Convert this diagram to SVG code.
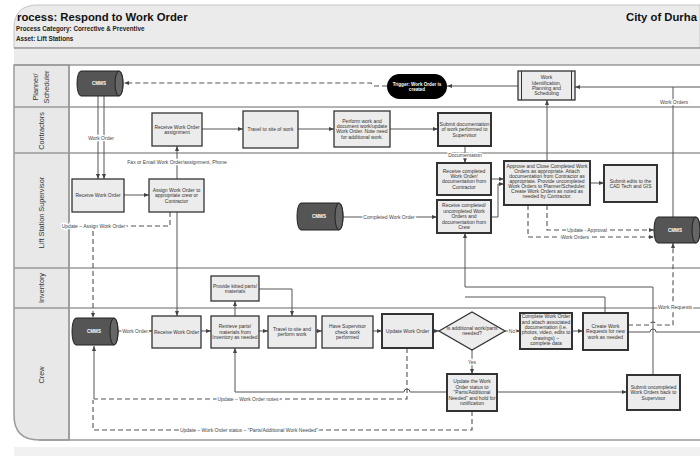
<svg xmlns="http://www.w3.org/2000/svg" width="700" height="456" viewBox="0 0 700 456">
<style>
text{font-family:"Liberation Sans",Arial,sans-serif;}
.lane{fill:none;stroke:#9a9a9a;stroke-width:1.5}
.ll{font-size:7.3px;fill:#333;text-anchor:middle}
.box{fill:#ececec;stroke:#333;stroke-width:1.3}
.thk{stroke-width:2}
.bt{font-size:5px;fill:#333;text-anchor:middle}
.cyl{fill:#555;stroke:#222;stroke-width:1}
.cap{fill:#666;stroke:#222;stroke-width:1}
.ct{font-size:4.6px;fill:#fff;font-weight:bold;text-anchor:middle}
.c{fill:none;stroke:#555;stroke-width:1}
.d{fill:none;stroke:#555;stroke-width:1.1;stroke-dasharray:5,3}
.lb{font-size:5px;fill:#444;text-anchor:middle;stroke:#fff;stroke-width:2.5;paint-order:stroke}
</style>
<defs>
<marker id="ah" viewBox="0 0 10 10" refX="10" refY="5" markerWidth="5" markerHeight="5" orient="auto" markerUnits="userSpaceOnUse"><path d="M0,1 L10,5 L0,9 z" fill="#444"/></marker>
</defs>
<rect width="700" height="456" fill="#fff"/>
<g id="lanes">
<path d="M14,48 V28 Q14,5 38,5 H700 V48 Z" fill="#ebebeb" stroke="#c4c4c4" stroke-width="1"/>
<rect x="14" y="48" width="686" height="17" fill="#ebebeb"/>
<path d="M14,65 H69 V440 H39 Q14,440 14,415 Z" fill="#e8e8e8" stroke="#9a9a9a" stroke-width="1.5"/>
<line class="lane" x1="14" y1="48" x2="700" y2="48"/>
<line class="lane" x1="14" y1="65" x2="700" y2="65"/>
<line class="lane" x1="14" y1="107" x2="700" y2="107"/>
<line class="lane" x1="14" y1="153" x2="700" y2="153"/>
<line class="lane" x1="14" y1="268" x2="700" y2="268"/>
<line class="lane" x1="14" y1="308" x2="700" y2="308"/>
<line class="lane" x1="39" y1="440" x2="700" y2="440"/>
<line class="lane" x1="69" y1="65" x2="69" y2="440"/>
<rect x="14" y="447" width="686" height="9" fill="#f1f1f1"/>
<text x="17" y="20.5" font-size="11.3" font-weight="bold" fill="#111">rocess: Respond to Work Order</text>
<text x="16" y="30.5" font-size="6.3" font-weight="bold" fill="#222">Process Category: Corrective &amp; Preventive</text>
<text x="16" y="40.5" font-size="6.3" font-weight="bold" fill="#222">Asset:   Lift Stations</text>
<text x="626" y="20.5" font-size="11.3" font-weight="bold" fill="#111">City of Durha</text>
<text class="ll" transform="translate(35,87) rotate(-90)" dy="2.5">Planner/</text>
<text class="ll" transform="translate(46,87) rotate(-90)" dy="2.5">Scheduler</text>
<text class="ll" transform="translate(41.5,131) rotate(-90)" dy="2.5">Contractors</text>
<text class="ll" transform="translate(41.5,212.5) rotate(-90)" dy="2.5">Lift Station Supervisor</text>
<text class="ll" transform="translate(41.5,288) rotate(-90)" dy="2.5">Inventory</text>
<text class="ll" transform="translate(41.5,375) rotate(-90)" dy="2.5">Crew</text>
</g>
<g id="connectors">
<path class="c" d="M518,86 H447" marker-end="url(#ah)"/>
<path class="d" d="M387,86 H374 L371,83 H124" marker-end="url(#ah)"/>
<path class="c" d="M98,96 V179" marker-end="url(#ah)"/>
<path class="c" d="M104,96 V179" marker-end="url(#ah)"/>
<text class="lb" x="101" y="139.5">Work Order</text>
<path class="c" d="M202,129 H243" marker-end="url(#ah)"/>
<path class="c" d="M298,129 H334" marker-end="url(#ah)"/>
<path class="c" d="M390,129 H438" marker-end="url(#ah)"/>
<path class="c" d="M124,195 H149" marker-end="url(#ah)"/>
<path class="c" d="M177,179 V146" marker-end="url(#ah)"/>
<text class="lb" x="177" y="163.5">Fax or Email Work Order/assignment, Phone</text>
<path class="c" d="M177,212 V316" marker-end="url(#ah)"/>
<path class="d" d="M170,212 V226 H93 V318" marker-end="url(#ah)"/>
<text class="lb" x="93.5" y="228">Update – Assign Work Order</text>
<path class="c" d="M465,146 V163" marker-end="url(#ah)"/>
<text class="lb" x="465" y="156.5">Documentation</text>
<path class="c" d="M343,217 H437" marker-end="url(#ah)"/>
<text class="lb" x="389" y="218.5">Completed Work Order</text>
<path class="c" d="M491,179 H504" marker-end="url(#ah)"/>
<path class="c" d="M491,217 H498 V184 H504" marker-end="url(#ah)"/>
<path class="c" d="M590,183 H604" marker-end="url(#ah)"/>
<path class="c" d="M547,161 V100" marker-end="url(#ah)"/>
<path class="d" d="M547,205 V230 H654" marker-end="url(#ah)"/>
<text class="lb" x="587" y="231.5">Update - Approval</text>
<path class="d" d="M528,205 V237 H654" marker-end="url(#ah)"/>
<text class="lb" x="575" y="238.5">Work Orders</text>
<path class="c" d="M700,87 H575" marker-end="url(#ah)"/>
<path class="c" d="M673,217 V87"/>
<text class="lb" x="674" y="103.5">Work Orders</text>
<path class="d" d="M628,325 H650 A3,3 0 0 1 656,325 H673 V243" marker-end="url(#ah)"/>
<text class="lb" x="675" y="308.5">Work Requests</text>
<path class="c" d="M628,332 H650 A3,3 0 0 1 656,332 H700"/>
<path class="c" d="M653,375 V287 H465 V233" marker-end="url(#ah)"/>
<path class="c" d="M605,313 V297 H465"/>
<path class="c" d="M118,331 H152" marker-end="url(#ah)"/>
<text class="lb" x="135" y="332.5">Work Order</text>
<path class="c" d="M201,331 H211" marker-end="url(#ah)"/>
<path class="c" d="M259,331 H268" marker-end="url(#ah)"/>
<path class="c" d="M316,331 H322" marker-end="url(#ah)"/>
<path class="c" d="M373,331 H382" marker-end="url(#ah)"/>
<path class="c" d="M433,331 H439" marker-end="url(#ah)"/>
<path class="c" d="M505,331 H520" marker-end="url(#ah)"/>
<text class="lb" x="512" y="332.5" font-size="4.6">No</text>
<path class="c" d="M572,331 H583" marker-end="url(#ah)"/>
<path class="c" d="M472,350 V374" marker-end="url(#ah)"/>
<text class="lb" x="472" y="363.5" font-size="4.6">Yes</text>
<path class="c" d="M235,316 V301" marker-end="url(#ah)"/>
<path class="c" d="M259,289 H292 V316" marker-end="url(#ah)"/>
<path class="c" d="M497,392 H627" marker-end="url(#ah)"/>
<path class="c" d="M447,392 H410 A3,3 0 0 0 404,392 H235 V348" marker-end="url(#ah)"/>
<path class="d" d="M407,348 V399 H94"/>
<path class="c" d="M94,399 V346" marker-end="url(#ah)"/>
<text class="lb" x="248" y="400.5">Update – Work Order notes</text>
<path class="d" d="M472,411 V430 H93 V400"/>
<text class="lb" x="249" y="431.5">Update – Work Order status – "Parts/Additional Work Needed"</text>
</g>
<g id="n-cmms-planner">
<path class="cyl" d="M81,71 H119 A4,12.5 0 0 1 119,96 H81 A4,12.5 0 0 1 81,71 Z"/>
<ellipse class="cap" cx="119" cy="83.5" rx="4" ry="12.5"/>
<text class="ct" x="99" y="85">CMMS</text>
</g>
<g id="n-trigger">
<rect x="387" y="74" width="60" height="25" rx="12.5" fill="#000"/>
<text class="ct" x="417" y="85.5"><tspan x="417">Trigger:  Work Order is</tspan><tspan x="417" dy="5.4">created</tspan></text>
</g>
<g id="n-workid">
<rect class="box" x="518" y="71" width="57" height="29"/>
<line x1="521.5" y1="71" x2="521.5" y2="100" stroke="#333" stroke-width="1"/>
<line x1="571.5" y1="71" x2="571.5" y2="100" stroke="#333" stroke-width="1"/>
<text class="bt" x="546.5" y="79.1"><tspan x="546.5">Work</tspan><tspan x="546.5" dy="5.4">Identification,</tspan><tspan x="546.5" dy="5.4">Planning and</tspan><tspan x="546.5" dy="5.4">Scheduling</tspan></text>
</g>
<g id="n-c1">
<rect class="box" x="152" y="113" width="50" height="33"/>
<text class="bt" x="177" y="128.5"><tspan x="177">Receive  Work Order</tspan><tspan x="177" dy="5.4">assignment</tspan></text>
</g>
<g id="n-c2">
<rect class="box" x="243" y="111" width="55" height="37"/>
<text class="bt" x="270.5" y="131.2">Travel to site of work</text>
</g>
<g id="n-c3">
<rect class="box" x="334" y="111" width="56" height="36"/>
<text class="bt" x="362" y="122.6"><tspan x="362">Perform work and</tspan><tspan x="362" dy="5.4">document work/update</tspan><tspan x="362" dy="5.4">Work Order.  Note need</tspan><tspan x="362" dy="5.4">for additional work.</tspan></text>
</g>
<g id="n-c4">
<rect class="box thk" x="438" y="113" width="53" height="33"/>
<text class="bt" x="464.5" y="125.8"><tspan x="464.5">Submit documentation</tspan><tspan x="464.5" dy="5.4">of work performed to</tspan><tspan x="464.5" dy="5.4">Supervisor</tspan></text>
</g>
<g id="n-s1">
<rect class="box" x="72" y="179" width="52" height="33"/>
<text class="bt" x="98" y="197.2">Receive Work Order</text>
</g>
<g id="n-s2">
<rect class="box" x="149" y="179" width="55" height="33"/>
<text class="bt" x="176.5" y="191.8"><tspan x="176.5">Assign Work Order to</tspan><tspan x="176.5" dy="5.4">appropriate crew or</tspan><tspan x="176.5" dy="5.4">Contractor</tspan></text>
</g>
<g id="n-cmms-sup">
<path class="cyl" d="M301,203 H339 A4,13.5 0 0 1 339,230 H301 A4,13.5 0 0 1 301,203 Z"/>
<ellipse class="cap" cx="339" cy="216.5" rx="4" ry="13.5"/>
<text class="ct" x="319" y="218">CMMS</text>
</g>
<g id="n-s3">
<rect class="box thk" x="437" y="163" width="54" height="32"/>
<text class="bt" x="464" y="172.6"><tspan x="464">Receive completed</tspan><tspan x="464" dy="5.4">Work Order/</tspan><tspan x="464" dy="5.4">documentation from</tspan><tspan x="464" dy="5.4">Contractor</tspan></text>
</g>
<g id="n-s4">
<rect class="box thk" x="437" y="200" width="54" height="33"/>
<text class="bt" x="464" y="207.4"><tspan x="464">Receive completed/</tspan><tspan x="464" dy="5.4">uncompleted Work</tspan><tspan x="464" dy="5.4">Orders and</tspan><tspan x="464" dy="5.4">documentation from</tspan><tspan x="464" dy="5.4">Crew</tspan></text>
</g>
<g id="n-s5">
<rect class="box thk" x="504" y="161" width="86" height="44"/>
<text class="bt" x="547" y="167.6"><tspan x="547">Approve and Close Completed Work</tspan><tspan x="547" dy="5.05">Orders as appropriate. Attach</tspan><tspan x="547" dy="5.05">documentation from Contractor as</tspan><tspan x="547" dy="5.05">appropriate. Provide uncompleted</tspan><tspan x="547" dy="5.05">Work Orders to Planner/Scheduler.</tspan><tspan x="547" dy="5.05">Create Work Orders as noted as</tspan><tspan x="547" dy="5.05">needed by Contractor.</tspan></text>
</g>
<g id="n-s6">
<rect class="box thk" x="604" y="165" width="53" height="37"/>
<text class="bt" x="630.5" y="182.5"><tspan x="630.5">Submit edits to the</tspan><tspan x="630.5" dy="5.4">CAD Tech and GIS</tspan></text>
</g>
<g id="n-cmms-right">
<path class="cyl" d="M658,217 H696 A4,13 0 0 1 696,243 H658 A4,13 0 0 1 658,217 Z"/>
<ellipse class="cap" cx="696" cy="230" rx="4" ry="13"/>
<text class="ct" x="675" y="231.5">CMMS</text>
</g>
<g id="n-i1">
<rect class="box" x="211" y="276" width="48" height="25"/>
<text class="bt" x="235" y="287.5"><tspan x="235">Provide kitted parts/</tspan><tspan x="235" dy="5.4">materials</tspan></text>
</g>
<g id="n-cmms-crew">
<path class="cyl" d="M76,318 H114 A4,13.5 0 0 1 114,345 H76 A4,13.5 0 0 1 76,318 Z"/>
<ellipse class="cap" cx="114" cy="331.5" rx="4" ry="13.5"/>
<text class="ct" x="94" y="333">CMMS</text>
</g>
<g id="n-r1">
<rect class="box" x="152" y="316" width="49" height="32"/>
<text class="bt" x="176.5" y="333.7">Receive Work Order</text>
</g>
<g id="n-r2">
<rect class="box" x="211" y="316" width="48" height="32"/>
<text class="bt" x="235" y="328.3"><tspan x="235">Retrieve parts/</tspan><tspan x="235" dy="5.4">materials from</tspan><tspan x="235" dy="5.4">Inventory as needed</tspan></text>
</g>
<g id="n-r3">
<rect class="box" x="268" y="316" width="48" height="32"/>
<text class="bt" x="292" y="331"><tspan x="292">Travel to site and</tspan><tspan x="292" dy="5.4">perform work</tspan></text>
</g>
<g id="n-r4">
<rect class="box" x="322" y="316" width="51" height="32"/>
<text class="bt" x="347.5" y="328.3"><tspan x="347.5">Have Supervisor</tspan><tspan x="347.5" dy="5.4">check  work</tspan><tspan x="347.5" dy="5.4">performed</tspan></text>
</g>
<g id="n-r5">
<rect class="box thk" x="382" y="314" width="51" height="34"/>
<text class="bt" x="407.5" y="332.7">Update Work Order</text>
</g>
<g id="n-decision">
<path class="box" d="M439,331 L472,312 L505,331 L472,350 Z"/>
<text class="bt" x="472" y="330"><tspan x="472">Is additional work/parts</tspan><tspan x="472" dy="5.4">needed?</tspan></text>
</g>
<g id="n-r6">
<rect class="box thk" x="520" y="313" width="52" height="36"/>
<text class="bt" x="546" y="318.2"><tspan x="546">Complete Work Order</tspan><tspan x="546" dy="5.4">and attach associated</tspan><tspan x="546" dy="5.4">documentation (i.e.</tspan><tspan x="546" dy="5.4">photos, video, edits to</tspan><tspan x="546" dy="5.4">drawings) –</tspan><tspan x="546" dy="5.4">complete data</tspan></text>
</g>
<g id="n-r7">
<rect class="box thk" x="583" y="313" width="45" height="37"/>
<text class="bt" x="605.5" y="327.8"><tspan x="605.5">Create Work</tspan><tspan x="605.5" dy="5.4">Requests for new</tspan><tspan x="605.5" dy="5.4">work as needed</tspan></text>
</g>
<g id="n-r8">
<rect class="box thk" x="447" y="374" width="50" height="37"/>
<text class="bt" x="472" y="383.4"><tspan x="472">Update the Work</tspan><tspan x="472" dy="5.4">Order status to</tspan><tspan x="472" dy="5.4">"Parts/Additional</tspan><tspan x="472" dy="5.4">Needed" and hold for</tspan><tspan x="472" dy="5.4">notification</tspan></text>
</g>
<g id="n-r9">
<rect class="box thk" x="627" y="375" width="53" height="35"/>
<text class="bt" x="653.5" y="388.8"><tspan x="653.5">Submit uncompleted</tspan><tspan x="653.5" dy="5.4">Work Orders back to</tspan><tspan x="653.5" dy="5.4">Supervisor</tspan></text>
</g>
</svg>
